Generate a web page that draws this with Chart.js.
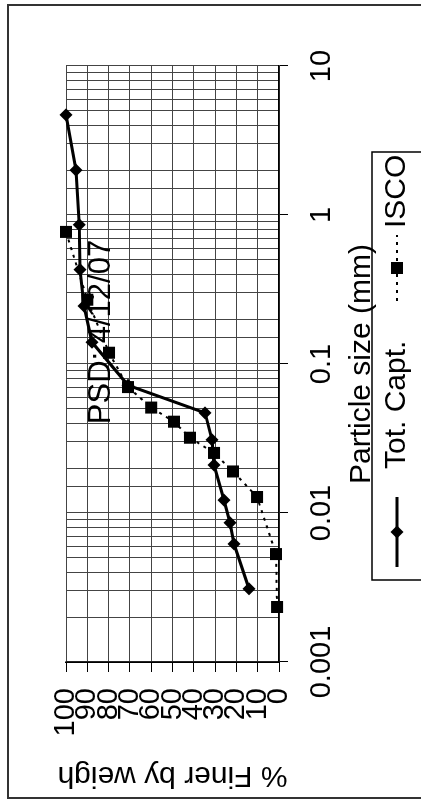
<!DOCTYPE html>
<html>
<head>
<meta charset="utf-8">
<script src="https://cdn.jsdelivr.net/npm/chart.js@4/dist/chart.umd.min.js"></script>
<style>
  html, body { margin: 0; padding: 0; background: #fff; overflow: hidden; }
  #wrap {
    position: absolute; left: 0; top: 0;
    width: 801px; height: 421px;
    transform-origin: 0 0;
    transform: translateY(801px) rotate(-90deg);
  }
</style>
</head>
<body>
<div id="wrap"><canvas id="psdChart" width="801" height="421"></canvas></div>
<script>
// PSD chart - drawn landscape, page turns it a quarter turn

const chartTitle = 'PSD: 4/12/07';
const xTitle = 'Particle size (mm)';
const yTitle = '% Finer by weigh';
const xTickLabels = ['0.001', '0.01', '0.1', '1', '10'];

// Tot. Capt. series
const totSize  = [4.7, 2.0, 0.86, 0.43, 0.245, 0.14, 0.072, 0.047, 0.031, 0.021, 0.0122, 0.0086, 0.0062, 0.0031];
const totFiner = [100, 95.3, 93.8, 93.4, 91.5, 87.8, 70.9, 34.7, 31.5, 30.5, 25.8, 23, 21.1, 14.1];

// ISCO series
const iscoSize  = [0.77, 0.27, 0.119, 0.070, 0.051, 0.041, 0.032, 0.0253, 0.019, 0.0128, 0.0053, 0.00234];
const iscoFiner = [100, 90, 79.8, 70.9, 60, 49.3, 41.8, 30.5, 21.6, 10.3, 1.4, 0.9];

const FONT = "'Liberation Sans', Arial, sans-serif";

function toPoints(xs, ys) {
    return xs.map((x, i) => ({ x: x, y: ys[i] }));
}

function isDecade(v) {
    const l = Math.log10(v);
    return Math.abs(l - Math.round(l)) < 1e-6;
}

/**
 * Outer frame, title and boxed legend (like the Excel original)
 */
const decorPlugin = {
    id: 'decor',
    beforeDraw(chart) {
        const ctx = chart.ctx;
        ctx.save();
        ctx.fillStyle = '#fff';
        ctx.fillRect(0, 0, chart.width, chart.height);
        ctx.strokeStyle = '#333';
        ctx.lineWidth = 2;
        ctx.strokeRect(3, 8, 793, 440);
        ctx.restore();
    },
    afterDraw(chart) {
        const ctx = chart.ctx;
        const area = chart.chartArea;
        ctx.save();
        // title sits inside the plot area
        ctx.fillStyle = '#000';
        ctx.font = '31px ' + FONT;
        ctx.textAlign = 'center';
        ctx.textBaseline = 'middle';
        ctx.fillText(chartTitle, (area.left + area.right) / 2 + 32, 101);

        // legend box
        ctx.strokeStyle = '#000';
        ctx.lineWidth = 1.5;
        ctx.strokeRect(221, 372, 428, 80);

        const ly = 397;
        const sets = chart.data.datasets;
        const items = [
            { ds: sets[0], x0: 234, x1: 304, tx: 332 },
            { ds: sets[1], x0: 500, x1: 566, tx: 573 }
        ];
        ctx.font = '30px ' + FONT;
        ctx.textAlign = 'left';
        items.forEach(it => {
            ctx.strokeStyle = it.ds.borderColor;
            ctx.lineWidth = it.ds.borderWidth;
            ctx.setLineDash(it.ds.borderDash || []);
            ctx.beginPath();
            ctx.moveTo(it.x0, ly);
            ctx.lineTo(it.x1, ly);
            ctx.stroke();
            ctx.setLineDash([]);
            const cx = (it.x0 + it.x1) / 2;
            const r = it.ds.pointRadius;
            ctx.fillStyle = it.ds.pointBackgroundColor;
            ctx.beginPath();
            if (it.ds.pointStyle === 'rectRot') {
                ctx.moveTo(cx, ly - r);
                ctx.lineTo(cx + r, ly);
                ctx.lineTo(cx, ly + r);
                ctx.lineTo(cx - r, ly);
                ctx.closePath();
            } else {
                const s = r * Math.SQRT1_2;
                ctx.rect(cx - s, ly - s, 2 * s, 2 * s);
            }
            ctx.fill();
            ctx.fillStyle = '#000';
            ctx.fillText(it.ds.label, it.tx, ly);
        });
        ctx.restore();
    }
};

const ctx = document.getElementById('psdChart');
const psdChart = new Chart(ctx, {
    type: 'scatter',
    data: {
        datasets: [
            {
                label: 'Tot. Capt.',
                data: toPoints(totSize, totFiner),
                showLine: true,
                clip: false,
                borderColor: '#000',
                borderWidth: 3,
                pointStyle: 'rectRot',
                pointRadius: 6.5,
                pointBackgroundColor: '#000',
                pointBorderColor: '#000',
                pointBorderWidth: 0
            },
            {
                label: 'ISCO',
                data: toPoints(iscoSize, iscoFiner),
                showLine: true,
                clip: false,
                borderColor: '#000',
                borderWidth: 2,
                borderDash: [3, 5],
                pointStyle: 'rect',
                pointRadius: 8.5,
                pointBackgroundColor: '#000',
                pointBorderColor: '#000',
                pointBorderWidth: 0
            }
        ]
    },
    options: {
        responsive: false,
        animation: false,
        devicePixelRatio: 1,
        layout: {
            padding: { left: 0, right: 66, top: 66, bottom: 0 }
        },
        plugins: {
            legend: { display: false },
            title: { display: false },
            tooltip: { enabled: false }
        },
        scales: {
            x: {
                type: 'logarithmic',
                min: 0.001,
                max: 10,
                afterFit: function(scale) { scale.height = 142; },
                border: { display: true, color: '#000', width: 1.5 },
                grid: {
                    color: '#444',
                    lineWidth: 1,
                    tickLength: 9,
                    tickColor: function(context) {
                        return context.tick && isDecade(context.tick.value) ? '#000' : 'rgba(0,0,0,0)';
                    }
                },
                ticks: {
                    autoSkip: false,
                    maxRotation: 0,
                    padding: 17,
                    color: '#000',
                    font: { family: FONT, size: 29 },
                    callback: function(value) {
                        if (!isDecade(value)) return '';
                        const i = Math.round(Math.log10(value)) + 3;
                        return xTickLabels[i];
                    }
                },
                title: {
                    display: true,
                    text: xTitle,
                    color: '#000',
                    font: { family: FONT, size: 30 },
                    padding: { top: 0, bottom: 41 }
                }
            },
            y: {
                min: 0,
                max: 100,
                afterFit: function(scale) { scale.width = 139; },
                border: { display: true, color: '#000', width: 1.5 },
                grid: {
                    color: '#444',
                    lineWidth: 1,
                    tickLength: 10,
                    tickColor: '#000'
                },
                ticks: {
                    stepSize: 10,
                    autoSkip: false,
                    padding: 16,
                    color: '#000',
                    font: { family: FONT, size: 29 }
                },
                title: {
                    display: true,
                    text: yTitle,
                    color: '#000',
                    font: { family: FONT, size: 30 },
                    padding: { top: 8, bottom: 0 }
                }
            }
        }
    },
    plugins: [decorPlugin]
});
</script>
</body>
</html>
